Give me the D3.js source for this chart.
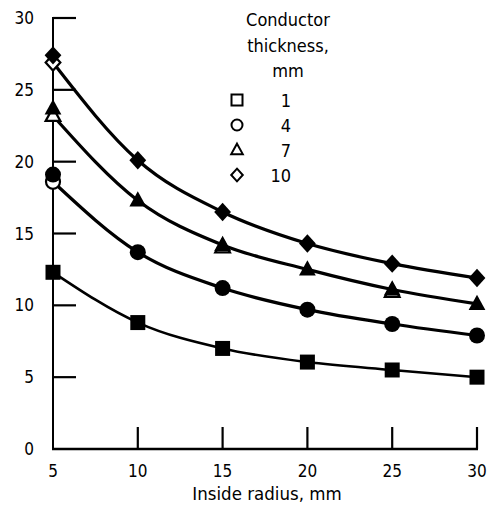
<!DOCTYPE html>
<html>
<head>
<meta charset="utf-8">
<script src="https://cdn.jsdelivr.net/npm/d3@7"></script>
<style>
  body { margin: 0; background: #fff; }
  svg text { font-family: "DejaVu Sans Condensed", "DejaVu Sans", sans-serif; fill: #000; }
</style>
</head>
<body>
<svg id="chart"></svg>
<script>
// inside radius, mm
const radii = [5, 10, 15, 20, 25, 30];
const thicknesses = ["1", "4", "7", "10"];
const symbols = ["square", "circle", "triangle", "diamond"];

// solid symbols
const t1 = [12.3, 8.8, 7.0, 6.05, 5.5, 5.0];
const t4 = [19.1, 13.7, 11.2, 9.7, 8.7, 7.9];
const t7 = [23.7, 17.3, 14.2, 12.5, 11.1, 10.1];
const t10 = [27.4, 20.1, 16.5, 14.3, 12.9, 11.9];

// open symbols peeking out under the solid ones
const openRadius = [5, 5, 5, 15, 25];
const openValue = [18.6, 23.2, 26.9, 14.05, 10.95];
const openSymbol = ["circle", "triangle", "diamond", "triangle", "triangle"];

const yTicks = [0, 5, 10, 15, 20, 25, 30];
const xTicks = [5, 10, 15, 20, 25, 30];

const series = [t1, t4, t7, t10];

const width = 488, height = 509;
const margin = { top: 18, right: 11, bottom: 60, left: 53 };

const svg = d3.select("#chart").attr("width", width).attr("height", height);

const x = d3.scaleLinear().domain([5, 30]).range([margin.left, width - margin.right]);
const y = d3.scaleLinear().domain([0, 30]).range([height - margin.bottom, margin.top]);

// frame: left axis and bottom axis
svg.append("line")
    .attr("x1", x(5)).attr("x2", x(5))
    .attr("y1", y(30) - 1).attr("y2", y(0))
    .attr("stroke", "#000").attr("stroke-width", 2);
svg.append("line")
    .attr("x1", x(5) - 1).attr("x2", x(30) + 1)
    .attr("y1", y(0)).attr("y2", y(0))
    .attr("stroke", "#000").attr("stroke-width", 2.5);

// ticks point inward from the axes
yTicks.slice(1).forEach(v => {
    svg.append("path")
        .attr("d", `M${x(5)},${y(v)}H${x(5) + 23}`)
        .attr("stroke", "#000")
        .attr("stroke-width", 2.2);
});
xTicks.slice(1).forEach(v => {
    svg.append("path")
        .attr("d", `M${x(v)},${y(0)}V${y(0) - 22}`)
        .attr("stroke", "#000")
        .attr("stroke-width", 2.2);
});

svg.append("g").selectAll("text")
    .data(yTicks)
    .enter()
    .append("text")
    .attr("x", 34)
    .attr("y", d => y(d) + 6)
    .attr("text-anchor", "end")
    .attr("font-size", 17)
    .text(d => d);

svg.append("g").selectAll("text")
    .data(xTicks)
    .enter()
    .append("text")
    .attr("x", d => x(d))
    .attr("y", y(0) + 28)
    .attr("text-anchor", "middle")
    .attr("font-size", 17)
    .text(d => d);

svg.append("text")
    .attr("x", x(17.5) + 2)
    .attr("y", 500)
    .attr("text-anchor", "middle")
    .attr("font-size", 18.5)
    .text("Inside radius, mm");

// curves
const line = d3.line()
    .x(d => x(d[0]))
    .y(d => y(d[1]))
    .curve(d3.curveMonotoneX);

series.forEach((vals, i) => {
    const pts = radii.map((r, j) => [r, vals[j]]);
    const k = openSymbol.findIndex((s, m) => s === symbols[i] && openRadius[m] === 5);
    if (k >= 0) pts[0] = [5, openValue[k]];
    svg.append("path")
        .attr("d", line(pts))
        .attr("fill", "none")
        .attr("stroke", "#000")
        .attr("stroke-width", i === 0 ? 2.6 : 3.2);
});

// marker shapes
function symbolPath(name, s) {
    if (name === "square") return `M${-s},${-s}H${s}V${s}H${-s}Z`;
    if (name === "circle") return d3.symbol(d3.symbolCircle, Math.PI * s * s)();
    if (name === "triangle") return `M0,${-s * 1.15}L${s * 1.05},${s * 0.75}L${-s * 1.05},${s * 0.75}Z`;
    return `M0,${-s * 1.15}L${s * 1.05},0L0,${s * 1.15}L${-s * 1.05},0Z`;
}

// open ones first, so solid ones sit on top
svg.append("g").selectAll("path")
    .data(openValue)
    .enter()
    .append("path")
    .attr("d", (d, i) => symbolPath(openSymbol[i], 7))
    .attr("transform", (d, i) => `translate(${x(openRadius[i])},${y(d)})`)
    .attr("fill", "#fff")
    .attr("stroke", "#000")
    .attr("stroke-width", 2.2);

series.forEach((vals, i) => {
    svg.append("g").selectAll("path")
        .data(vals)
        .enter()
        .append("path")
        .attr("d", symbolPath(symbols[i], symbols[i] === "square" ? 7.5 : 8))
        .attr("transform", (d, j) => `translate(${x(radii[j])},${y(d)})`)
        .attr("fill", "#000");
});

// legend
const legendTitle = ["Conductor", "thickness,", "mm"];
svg.append("g").selectAll("text")
    .data(legendTitle)
    .enter()
    .append("text")
    .attr("x", 288)
    .attr("y", (d, i) => 26 + i * 25.5)
    .attr("text-anchor", "middle")
    .attr("font-size", 18)
    .text(d => d);

const legend = svg.append("g");
thicknesses.forEach((t, i) => {
    const ly = 100 + i * 25;
    legend.append("path")
        .attr("d", symbolPath(symbols[i], 5.5))
        .attr("transform", `translate(237,${ly})`)
        .attr("fill", "none")
        .attr("stroke", "#000")
        .attr("stroke-width", 2);
    legend.append("text")
        .attr("x", 291)
        .attr("y", ly + 7)
        .attr("text-anchor", "end")
        .attr("font-size", 18)
        .text(t);
});
</script>
</body>
</html>
